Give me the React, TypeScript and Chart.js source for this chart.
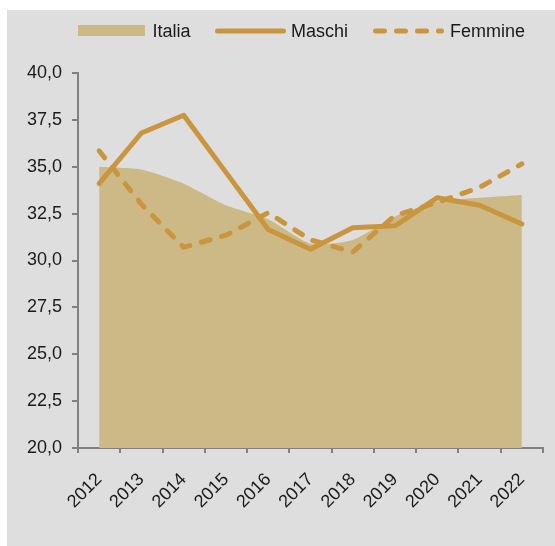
import React, { useEffect, useRef } from "react";
import { Chart, registerables } from "chart.js";

Chart.register(...registerables);

const years = ["2012", "2013", "2014", "2015", "2016", "2017", "2018", "2019", "2020", "2021", "2022"];
const seriesNames = ["Italia", "Maschi", "Femmine"];
const italia = [35.0, 34.85, 34.1, 32.95, 32.2, 30.9, 31.1, 32.35, 33.15, 33.35, 33.5];
const maschi = [34.1, 36.8, 37.75, 34.7, 31.65, 30.6, 31.75, 31.85, 33.35, 32.95, 31.95];
const femmine = [35.85, 33.0, 30.7, 31.35, 32.55, 31.1, 30.45, 32.4, 33.1, 33.9, 35.15];
const yMin = 20;
const yMax = 40;
const yStep = 2.5;

const LINE = "#c9963f";
const AREA = "#cdb986";
const BG = "#dedede";
const AXIS = "#808080";
const TEXT = "#1a1a1a";
const FONT = "'Liberation Sans', Arial, sans-serif";

function fmt(v: number) {
  return Number(v).toFixed(1).replace(".", ",");
}

export default function App() {
  const ref = useRef<HTMLCanvasElement>(null);

  useEffect(() => {
    const font = { family: FONT, size: 18 };
    const chart = new Chart(ref.current!, {
      type: "line",
      data: {
        labels: years,
        datasets: [
          {
            label: seriesNames[0],
            data: italia,
            fill: "start",
            backgroundColor: AREA,
            borderColor: "rgba(0,0,0,0)",
            borderWidth: 0,
            pointRadius: 0,
            tension: 0.2,
            order: 3,
          },
          {
            label: seriesNames[1],
            data: maschi,
            fill: false,
            borderColor: LINE,
            borderWidth: 5,
            borderJoinStyle: "round",
            borderCapStyle: "round",
            pointRadius: 0,
            tension: 0,
            order: 2,
          },
          {
            label: seriesNames[2],
            data: femmine,
            fill: false,
            borderColor: LINE,
            borderWidth: 5,
            borderDash: [9, 12],
            borderJoinStyle: "round",
            borderCapStyle: "round",
            pointRadius: 0,
            tension: 0,
            order: 1,
          },
        ],
      },
      options: {
        animation: false,
        responsive: true,
        maintainAspectRatio: false,
        layout: { padding: { top: 63, left: 16, right: 12, bottom: 28 } },
        plugins: { legend: { display: false }, tooltip: { enabled: false } },
        scales: {
          x: {
            offset: true,
            grid: { offset: true, drawOnChartArea: false, tickLength: 5, color: AXIS, lineWidth: 2 },
            border: { color: AXIS, width: 2 },
            ticks: { autoSkip: false, minRotation: 45, maxRotation: 45, font, color: TEXT, padding: 16 },
            afterFit: (s: any) => {
              s.height = 70;
            },
          },
          y: {
            min: yMin,
            max: yMax,
            grid: { drawOnChartArea: false, tickLength: 6, color: AXIS, lineWidth: 2 },
            border: { color: AXIS, width: 2 },
            ticks: { stepSize: yStep, font, color: TEXT, padding: 10, callback: (v: any) => fmt(v) },
            afterFit: (s: any) => {
              s.width = 55;
            },
          },
        },
      },
    } as any);
    return () => chart.destroy();
  }, []);

  const textStyle: React.CSSProperties = {
    position: "absolute",
    top: 11,
    height: 20,
    lineHeight: "20px",
    fontFamily: FONT,
    fontSize: 18,
    color: TEXT,
    whiteSpace: "nowrap",
  };

  return (
    <div style={{ position: "fixed", left: 7, top: 10, width: 548, height: 536, background: BG }}>
      <div style={{ position: "absolute", left: 0, top: 0, width: 548, height: 536 }}>
        <canvas ref={ref} />
      </div>
      <div style={{ position: "absolute", left: 71, top: 15, width: 67, height: 11, background: AREA }} />
      <div style={{ ...textStyle, left: 145.5 }}>{seriesNames[0]}</div>
      <svg style={{ position: "absolute", left: 208, top: 15, width: 71, height: 12 }} width={71} height={12}>
        <line x1={2.5} y1={6} x2={68.5} y2={6} stroke={LINE} strokeWidth={5} strokeLinecap="round" />
      </svg>
      <div style={{ ...textStyle, left: 284 }}>{seriesNames[1]}</div>
      <svg style={{ position: "absolute", left: 366, top: 15, width: 71, height: 12 }} width={71} height={12}>
        <line x1={2.5} y1={6} x2={68.5} y2={6} stroke={LINE} strokeWidth={5} strokeLinecap="round" strokeDasharray="9 12" />
      </svg>
      <div style={{ ...textStyle, left: 443 }}>{seriesNames[2]}</div>
    </div>
  );
}
